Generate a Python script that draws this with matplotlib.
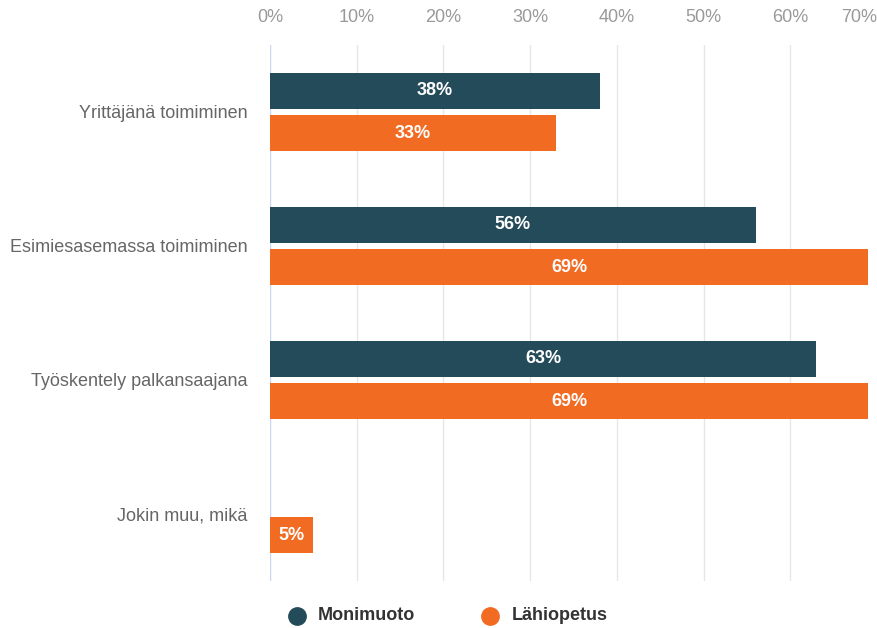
import matplotlib
matplotlib.use("Agg")
import matplotlib.pyplot as plt
from matplotlib.lines import Line2D
from matplotlib.transforms import blended_transform_factory
import numpy as np

plt.rcParams['font.family'] = ['Liberation Sans', 'DejaVu Sans']

categories = ["Yrittäjänä toimiminen", "Esimiesasemassa toimiminen",
              "Työskentely palkansaajana", "Jokin muu, mikä"]
series_names = ["Monimuoto", "Lähiopetus"]
monimuoto = [38, 56, 63, None]
lahiopetus = [33, 69, 69, 5]
ticks = [0, 10, 20, 30, 40, 50, 60, 70]

colors = ["#244b5a", "#f26b23"]

W, H = 877, 628
fig = plt.figure(figsize=(W / 100, H / 100), dpi=100)
left_px, x70_px, top_px, bot_px = 270, 877, 45, 581
ax = fig.add_axes([left_px / W, 1 - bot_px / H, (x70_px - left_px) / W, (bot_px - top_px) / H])
ax.set_xlim(0, 70)
ax.set_ylim(len(categories) - 0.5, -0.5)

y = np.arange(len(categories))
off = 0.157
h = 0.268
for vals, dy, c in [(monimuoto, -off, colors[0]), (lahiopetus, off, colors[1])]:
    for i, v in enumerate(vals):
        if v is None:
            continue
        ax.barh(y[i] + dy, v, height=h, color=c, zorder=3)
        ax.text(v / 2, y[i] + dy, f"{v}%", ha="center", va="center",
                color="white", fontsize=13, fontweight="bold", zorder=4)

# gridlines
for t in ticks[:-1]:
    ax.axvline(t, color="#ccd6eb" if t == 0 else "#e6e6e6", lw=1, zorder=1)

for s in ax.spines.values():
    s.set_visible(False)
ax.set_xticks([])
ax.set_yticks(y)
ax.set_yticklabels(categories, fontsize=13, color="#666666")
ax.tick_params(axis="y", length=0, pad=16)

trans = blended_transform_factory(ax.transData, ax.transAxes)
for t in ticks:
    ha = "right" if t == ticks[-1] else "center"
    ax.text(t, 1 + (top_px - 18) / (bot_px - top_px), f"{t}%", transform=trans,
            ha=ha, va="center", fontsize=13, color="#999999")

# legend (manual placement)
leg_y = 1 - 616 / H
for (cx, tx), name, c in zip([(297, 318), (490, 512)], series_names, colors):
    fig.add_artist(Line2D([cx / W], [leg_y], marker="o", ls="", markersize=12.5,
                          markerfacecolor=c, markeredgecolor=c, transform=fig.transFigure))
    fig.text(tx / W, leg_y, name, ha="left", va="center", fontsize=13,
             fontweight="bold", color="#333333")

fig.savefig("out.png", dpi=100)
